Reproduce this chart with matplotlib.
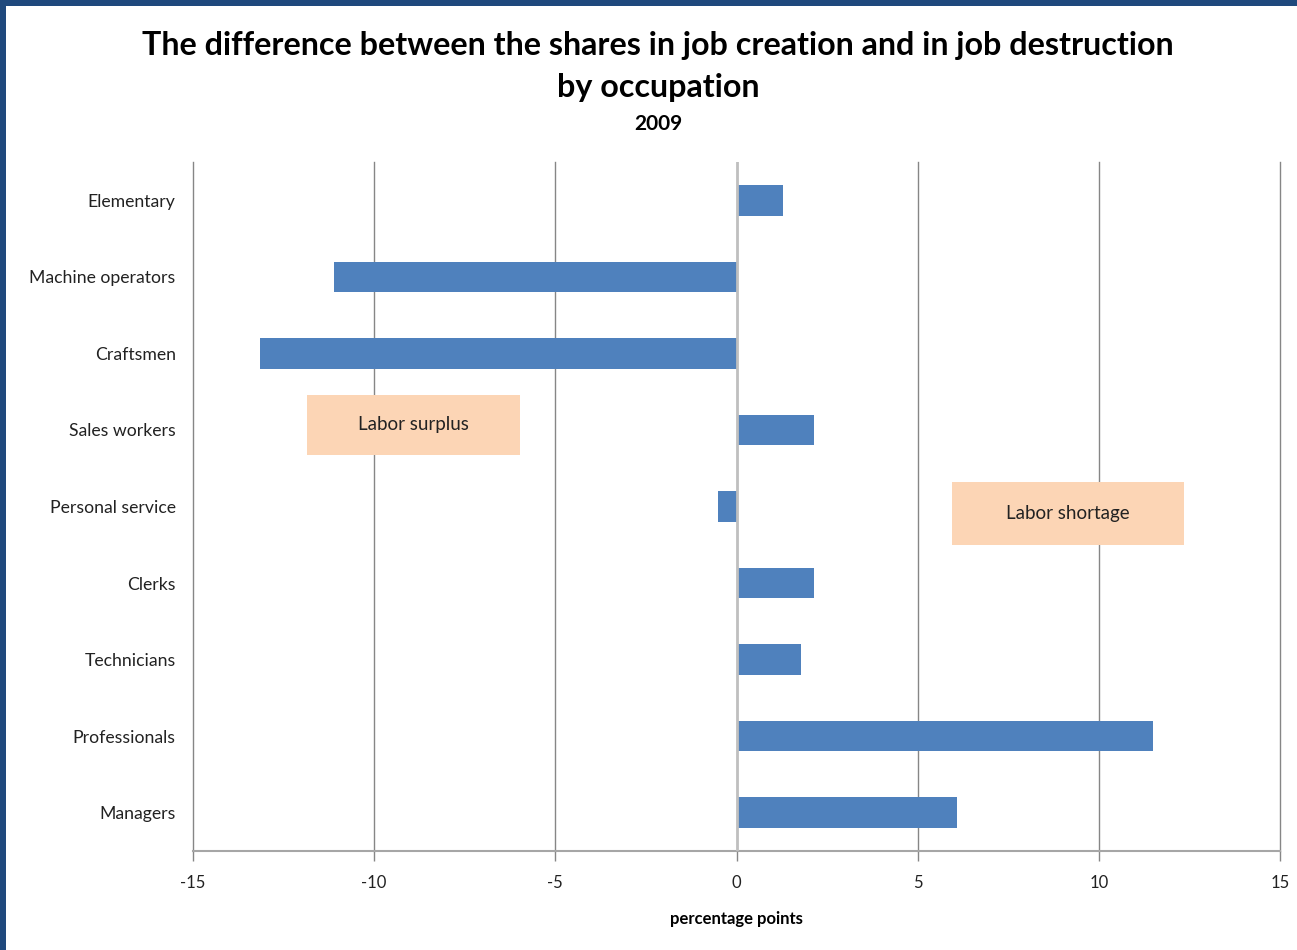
import matplotlib
matplotlib.use("Agg")
import matplotlib.pyplot as plt
from matplotlib.patches import Rectangle

plt.rcParams['font.family'] = ['Lato', 'DejaVu Sans']

categories = ["Elementary", "Machine operators", "Craftsmen", "Sales workers",
              "Personal service", "Clerks", "Technicians", "Professionals", "Managers"]
values = [1.27, -11.1, -13.15, 2.13, -0.5, 2.15, 1.77, 11.49, 6.08]
xticks = [-15, -10, -5, 0, 5, 10, 15]

fig = plt.figure(figsize=(12.97, 9.5), dpi=100)
fig.patch.set_facecolor('white')
ax = fig.add_axes([0.1488, 0.1042, 0.8381, 0.7253])

ypos = list(range(len(categories)))
ax.barh(ypos, values, height=0.4, color='#4F81BD', zorder=3)
ax.set_ylim(len(categories) - 0.5, -0.5)
ax.set_xlim(-15, 15)
ax.set_xticks(xticks)
ax.set_xticklabels([str(t) for t in xticks], fontsize=12, color='#222222')
ax.set_yticks(ypos)
ax.set_yticklabels(categories, fontsize=12.7, color='#222222')
ax.tick_params(axis='y', length=0, pad=12.5)
ax.tick_params(axis='x', length=7, width=1, color='#868686', pad=10, direction='out')

for t in xticks:
    if t != 0:
        ax.axvline(t, color='#868686', lw=1, zorder=1, clip_on=False)
ax.axvline(0, color='#BFBFBF', lw=2, zorder=4)

for s in ['top', 'right', 'left']:
    ax.spines[s].set_visible(False)
ax.spines['bottom'].set_color('#A6A6A6')
ax.spines['bottom'].set_linewidth(1.5)

ax.set_xlabel('percentage points', fontsize=12, fontweight='bold', labelpad=15)

# annotation boxes
ax.add_patch(Rectangle((0.1049, 0.575), 0.1959, 0.087, transform=ax.transAxes,
                       facecolor='#FCD5B5', edgecolor='none', zorder=5))
ax.text(0.2028, 0.6185, 'Labor surplus', transform=ax.transAxes, ha='center',
        va='center', fontsize=13.5, color='#222222', zorder=6)
ax.add_patch(Rectangle((0.698, 0.444), 0.214, 0.092, transform=ax.transAxes,
                       facecolor='#FCD5B5', edgecolor='none', zorder=5))
ax.text(0.805, 0.490, 'Labor shortage', transform=ax.transAxes, ha='center',
        va='center', fontsize=13.5, color='#222222', zorder=6)

fig.text(0.5075, 1 - 46 / 950, 'The difference between the shares in job creation and in job destruction',
         ha='center', va='center', fontsize=23.2, fontweight='bold')
fig.text(0.5075, 1 - 87 / 950, 'by occupation', ha='center', va='center',
         fontsize=23.2, fontweight='bold')
fig.text(0.5075, 1 - 124 / 950, '2009', ha='center', va='center',
         fontsize=15, fontweight='bold')

# border (left and top)
fig.add_artist(Rectangle((0, 0), 6 / 1297, 1, transform=fig.transFigure,
                         facecolor='#1F497D', edgecolor='none'))
fig.add_artist(Rectangle((0, 1 - 6 / 950), 1, 6 / 950, transform=fig.transFigure,
                         facecolor='#1F497D', edgecolor='none'))

fig.savefig('out.png', dpi=100)
